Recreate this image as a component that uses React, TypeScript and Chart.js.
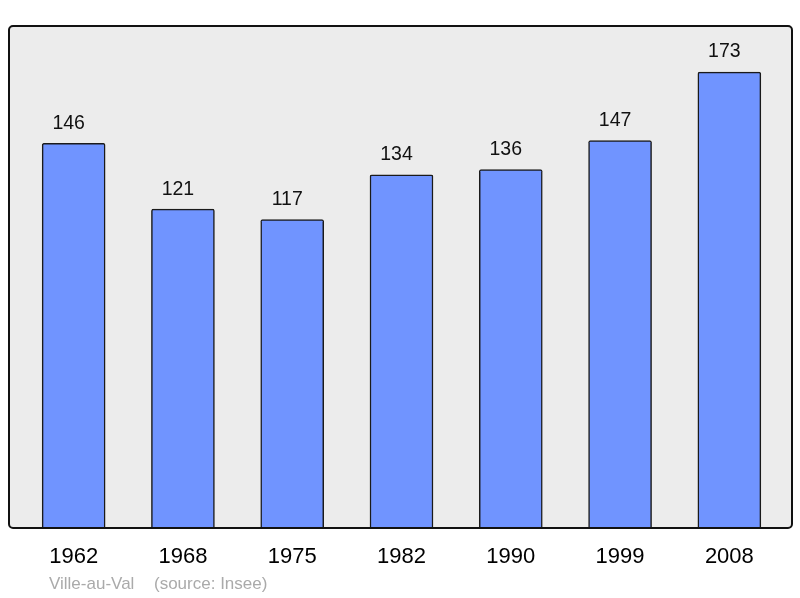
import React, { useEffect, useRef } from "react";
import { Chart, registerables } from "chart.js";

Chart.register(...registerables);

const years = ["1962", "1968", "1975", "1982", "1990", "1999", "2008"];
const population = [146, 121, 117, 134, 136, 147, 173];
const commune = "Ville-au-Val";
const source = "(source: Insee)";

const FONT = "'Liberation Sans', Arial, sans-serif";

const framePlugin = {
  id: "frame",
  beforeDatasetsDraw(chart: any) {
    const { ctx, chartArea } = chart;
    const x0 = chartArea.left - 10;
    const x1 = chartArea.right + 8;
    ctx.save();
    ctx.beginPath();
    ctx.roundRect(x0, chartArea.top, x1 - x0, chartArea.bottom - chartArea.top, 4);
    ctx.fillStyle = "#ececec";
    ctx.fill();
    ctx.restore();
  },
  afterDatasetsDraw(chart: any) {
    const { ctx, chartArea } = chart;
    const x0 = chartArea.left - 10;
    const x1 = chartArea.right + 8;
    ctx.save();
    ctx.beginPath();
    ctx.roundRect(x0, chartArea.top, x1 - x0, chartArea.bottom - chartArea.top, 4);
    ctx.lineWidth = 2;
    ctx.strokeStyle = "#111";
    ctx.stroke();

    // value labels
    const meta = chart.getDatasetMeta(0);
    ctx.fillStyle = "#111";
    ctx.font = `19.5px ${FONT}`;
    ctx.textAlign = "center";
    ctx.textBaseline = "middle";
    meta.data.forEach((bar: any, i: number) => {
      ctx.fillText(String(population[i]), bar.x - 5, bar.y - 20);
    });

    // x labels
    const xs = chart.scales.x;
    ctx.fillStyle = "#000";
    ctx.font = `22px ${FONT}`;
    years.forEach((y, i) => {
      ctx.fillText(y, xs.getPixelForValue(i), chartArea.bottom + 29);
    });

    // source
    ctx.fillStyle = "#aaaaaa";
    ctx.font = `17px ${FONT}`;
    ctx.textAlign = "left";
    ctx.fillText(commune, 49, chartArea.bottom + 56);
    ctx.fillText(source, 154, chartArea.bottom + 56);
    ctx.restore();
  },
};

export default function App() {
  const ref = useRef<HTMLCanvasElement | null>(null);
  useEffect(() => {
    if (!ref.current) return;
    const chart = new Chart(ref.current, {
      type: "bar",
      data: {
        labels: years,
        datasets: [
          {
            data: population,
            backgroundColor: "#7094ff",
            borderColor: "#1a1a1a",
            borderWidth: 1.5,
            borderSkipped: "bottom",
            borderRadius: { topLeft: 2, topRight: 2, bottomLeft: 0, bottomRight: 0 },
            barThickness: 63,
          },
        ],
      },
      options: {
        animation: false,
        responsive: false,
        maintainAspectRatio: false,
        layout: { padding: { left: 19, right: 16, top: 26, bottom: 70 } },
        plugins: { legend: { display: false }, tooltip: { enabled: false } },
        scales: {
          x: { display: false },
          y: { display: false, min: 0, max: 190.5 },
        },
      },
      plugins: [framePlugin],
    });
    return () => chart.destroy();
  }, []);
  return (
    <div style={{ position: "absolute", left: 0, top: 0, width: 800, height: 598, background: "#fff" }}>
      <canvas ref={ref} width={800} height={598} style={{ width: 800, height: 598, display: "block" }} />
    </div>
  );
}
